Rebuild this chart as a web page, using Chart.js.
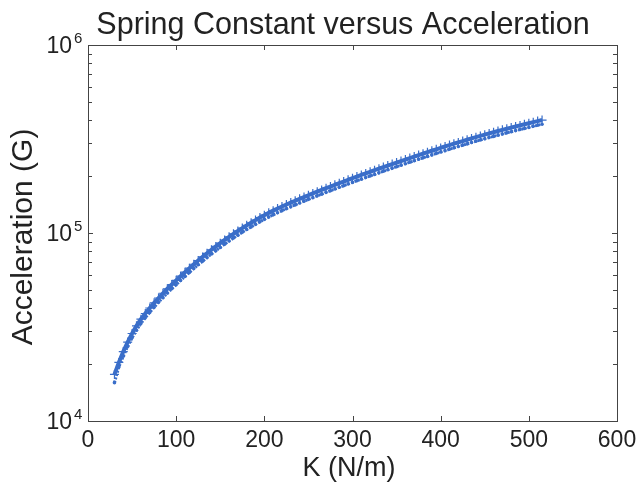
<!DOCTYPE html>
<html>
<head>
<meta charset="utf-8">
<script src="https://cdn.jsdelivr.net/npm/chart.js@4/dist/chart.umd.min.js"></script>
<style>
  html, body { margin: 0; padding: 0; background: #ffffff; }
  #wrap { width: 640px; height: 486px; }
</style>
</head>
<body>
<div id="wrap"><canvas id="chart" width="640" height="486"></canvas></div>
<script>
/* ── Spring constant vs acceleration (MATLAB-style log plot) ──────── */

// K (N/m) sample positions
const kValues = [
  30, 35, 40, 45, 50, 55, 60, 65, 70, 75, 80, 85, 90, 95, 100, 105, 110, 115, 120, 125,
  130, 135, 140, 145, 150, 155, 160, 165, 170, 175, 180, 185, 190, 195, 200, 205, 210, 215, 220, 225,
  230, 235, 240, 245, 250, 255, 260, 265, 270, 275, 280, 285, 290, 295, 300, 305, 310, 315, 320, 325,
  330, 335, 340, 345, 350, 355, 360, 365, 370, 375, 380, 385, 390, 395, 400, 405, 410, 415, 420, 425,
  430, 435, 440, 445, 450, 455, 460, 465, 470, 475, 480, 485, 490, 495, 500, 505, 510, 515
];

// Acceleration (G) — upper '+' series
const accelPlus = [
  17700, 20500, 23400, 26300, 29200, 32100, 34800, 37300, 39900, 42500,
  45100, 47800, 50500, 53200, 56000, 58900, 61900, 65000, 68200, 71400,
  74600, 78000, 81400, 84800, 88300, 91800, 95400, 99000, 102600, 106200,
  109800, 113400, 117100, 120800, 124400, 128000, 131500, 134900, 138300, 141700,
  145100, 148500, 151900, 155300, 158800, 162300, 165900, 169400, 173100, 176700,
  180400, 184200, 187900, 191800, 195700, 199600, 203500, 207500, 211600, 215700,
  219900, 224100, 228400, 232700, 237000, 241400, 245900, 250400, 255000, 259600,
  264300, 269000, 273900, 278700, 283600, 288600, 293500, 298500, 303400, 308400,
  313400, 318500, 323500, 328500, 333600, 338600, 343600, 348700, 353700, 358700,
  363700, 368700, 373600, 378600, 383600, 388700, 393800, 398900
];

// Acceleration (G) — lower dotted series
const accelDots = [
  16000, 19400, 22100, 24900, 27700, 30400, 33000, 35400, 37800, 40300,
  42800, 45300, 47900, 50500, 53100, 55900, 58700, 61700, 64700, 67800,
  70800, 74000, 77300, 80500, 83800, 87200, 90600, 94000, 97400, 100900,
  104300, 107700, 111200, 114700, 118200, 121600, 124900, 128200, 131500, 134700,
  137900, 141100, 144400, 147700, 151000, 154200, 157600, 160900, 164500, 167900,
  171400, 175000, 178500, 182200, 185900, 189600, 193300, 197200, 201000, 204900,
  208900, 212900, 217000, 221100, 225200, 229400, 233700, 237900, 242300, 246700,
  251100, 255600, 260300, 264800, 269500, 274200, 278900, 283700, 288300, 293100,
  297800, 302700, 307400, 312200, 317000, 321800, 326500, 331400, 336100, 340900,
  345600, 350400, 355000, 359800, 364600, 369400, 374200, 379100
];

const xTicks = [0, 100, 200, 300, 400, 500, 600];
const yDecades = [4, 5, 6];

const BLUE = '#3a6ec9';
const INK = '#222222';
const FONT = "'Liberation Sans', Arial, sans-serif";

// Box, inward ticks and all labels (MATLAB look)
const axesPlugin = {
  id: 'matlabAxes',
  afterDraw(chart) {
    const { ctx: c, chartArea: { left, right, top, bottom }, scales: { x, y } } = chart;

    function seg(x1, y1, x2, y2) {
      c.beginPath();
      c.moveTo(x1, y1);
      c.lineTo(x2, y2);
      c.stroke();
    }

    c.save();
    c.strokeStyle = '#444444';
    c.lineWidth = 1;
    c.strokeRect(Math.round(left) + 0.5, Math.round(top) + 0.5,
                 Math.round(right - left), Math.round(bottom - top));

    // x ticks, top and bottom
    xTicks.forEach(v => {
      const px = Math.round(x.getPixelForValue(v)) + 0.5;
      seg(px, bottom, px, bottom - 5);
      seg(px, top, px, top + 5);
    });

    // y ticks: decades + minor
    for (let d = yDecades[0]; d < yDecades[yDecades.length - 1]; d++) {
      for (let m = 1; m <= 9; m++) {
        const py = Math.round(y.getPixelForValue(m * Math.pow(10, d))) + 0.5;
        const len = m === 1 ? 5 : 4;
        seg(left, py, left + len, py);
        seg(right, py, right - len, py);
      }
    }

    // tick labels
    c.fillStyle = INK;
    c.font = `23px ${FONT}`;
    c.textAlign = 'center';
    c.textBaseline = 'middle';
    xTicks.forEach(v => {
      c.fillText(String(v), x.getPixelForValue(v), 441);
    });

    yDecades.forEach(d => {
      const py = y.getPixelForValue(Math.pow(10, d));
      c.font = `23px ${FONT}`;
      c.textAlign = 'right';
      c.textBaseline = 'middle';
      c.fillText('10', 72, py + 2);
      c.font = `15px ${FONT}`;
      c.textAlign = 'left';
      c.textBaseline = 'alphabetic';
      c.fillText(String(d), 74, py - 2);
    });

    // title
    c.font = `30.5px ${FONT}`;
    c.textAlign = 'center';
    c.textBaseline = 'alphabetic';
    c.fillText('Spring Constant versus Acceleration', 343, 34);

    // x axis title
    c.font = `27px ${FONT}`;
    c.fillText('K (N/m)', 349, 476);

    // y axis title
    c.font = `30px ${FONT}`;
    c.translate(24, 237);
    c.rotate(-Math.PI / 2);
    c.textBaseline = 'middle';
    c.fillText('Acceleration (G)', 0, 0);

    c.restore();
  }
};

function toPoints(xs, ys) {
  return xs.map((k, i) => ({ x: k, y: ys[i] }));
}

new Chart(document.getElementById('chart'), {
  type: 'scatter',
  data: {
    datasets: [
      {
        label: 'lower',
        data: toPoints(kValues, accelDots),
        showLine: true,
        borderColor: BLUE,
        borderWidth: 3,
        borderDash: [2, 1.5],
        pointStyle: 'circle',
        pointRadius: 1.8,
        pointBorderWidth: 0,
        pointBackgroundColor: BLUE,
      },
      {
        label: 'upper',
        data: toPoints(kValues, accelPlus),
        showLine: true,
        borderColor: BLUE,
        borderWidth: 4,
        pointStyle: 'cross',
        pointRadius: 4.5,
        pointBorderWidth: 1.2,
        pointBorderColor: BLUE,
        pointBackgroundColor: BLUE,
      },
    ]
  },
  options: {
    responsive: false,
    animation: false,
    devicePixelRatio: 1,
    layout: { padding: { left: 88, right: 23, top: 45, bottom: 65 } },
    plugins: {
      legend: { display: false },
      tooltip: { enabled: false },
    },
    scales: {
      x: { type: 'linear', min: 0, max: 600, display: false },
      y: { type: 'logarithmic', min: 1e4, max: 1e6, display: false },
    },
  },
  plugins: [axesPlugin],
});
</script>
</body>
</html>
